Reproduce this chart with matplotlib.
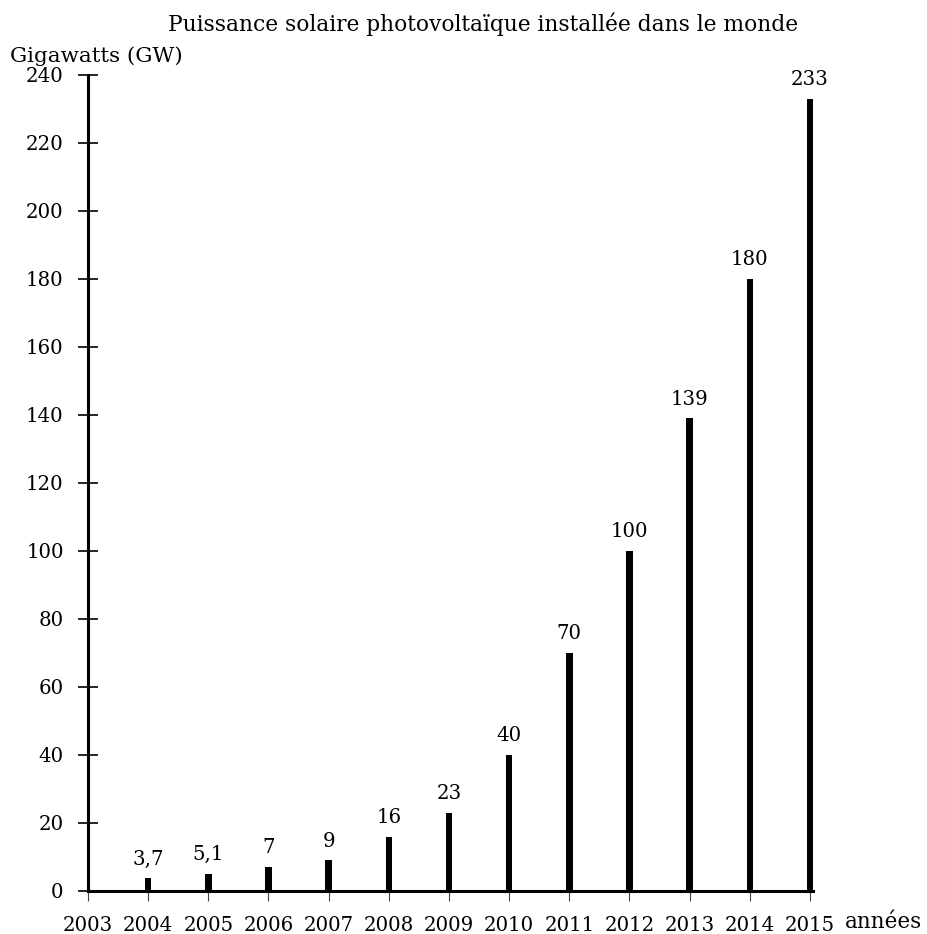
import matplotlib
matplotlib.use("Agg")
from matplotlib import pyplot as plt

years = [2004, 2005, 2006, 2007, 2008, 2009, 2010, 2011, 2012, 2013, 2014, 2015]
power = [3.7, 5.1, 7, 9, 16, 23, 40, 70, 100, 139, 180, 233]
labels = ["3,7", "5,1", "7", "9", "16", "23", "40", "70", "100", "139", "180", "233"]
xticks = list(range(2003, 2016))
yticks = list(range(0, 241, 20))

plt.rcParams["font.family"] = ["DejaVu Serif"]
fs = 14.2

fig = plt.figure(figsize=(9.27, 9.34), dpi=100)
ax = fig.add_axes([88 / 927, 1 - 891 / 934, (813 - 88) / 927, (891 - 75) / 934])

ax.bar(years, power, width=0.11, color="black")
for x, v, t in zip(years, power, labels):
    ax.annotate(t, (x, v), xytext=(0, 7), textcoords="offset points",
                ha="center", va="bottom", fontsize=fs)

ax.set_xlim(2003, 2015.05)
ax.set_ylim(0, 240)
ax.set_xticks(xticks)
ax.set_yticks(yticks)
ax.tick_params(axis="y", direction="inout", length=15, width=1.2, pad=10, labelsize=fs)
ax.tick_params(axis="x", direction="out", length=7, width=0.8, color="#444444", pad=11, labelsize=fs)

for s in ["top", "right"]:
    ax.spines[s].set_visible(False)
ax.spines["left"].set_linewidth(2.2)
ax.spines["bottom"].set_linewidth(2.2)

fig.text(483 / 927, 1 - 24 / 934, "Puissance solaire photovoltaïque installée dans le monde",
         ha="center", va="center", fontsize=15.7)
fig.text(10 / 927, 1 - 56 / 934, "Gigawatts (GW)", ha="left", va="center", fontsize=15.4)
fig.text(845 / 927, 1 - 928 / 934, "années", ha="left", va="baseline", fontsize=15.5)

plt.savefig("out.png", dpi=100)
